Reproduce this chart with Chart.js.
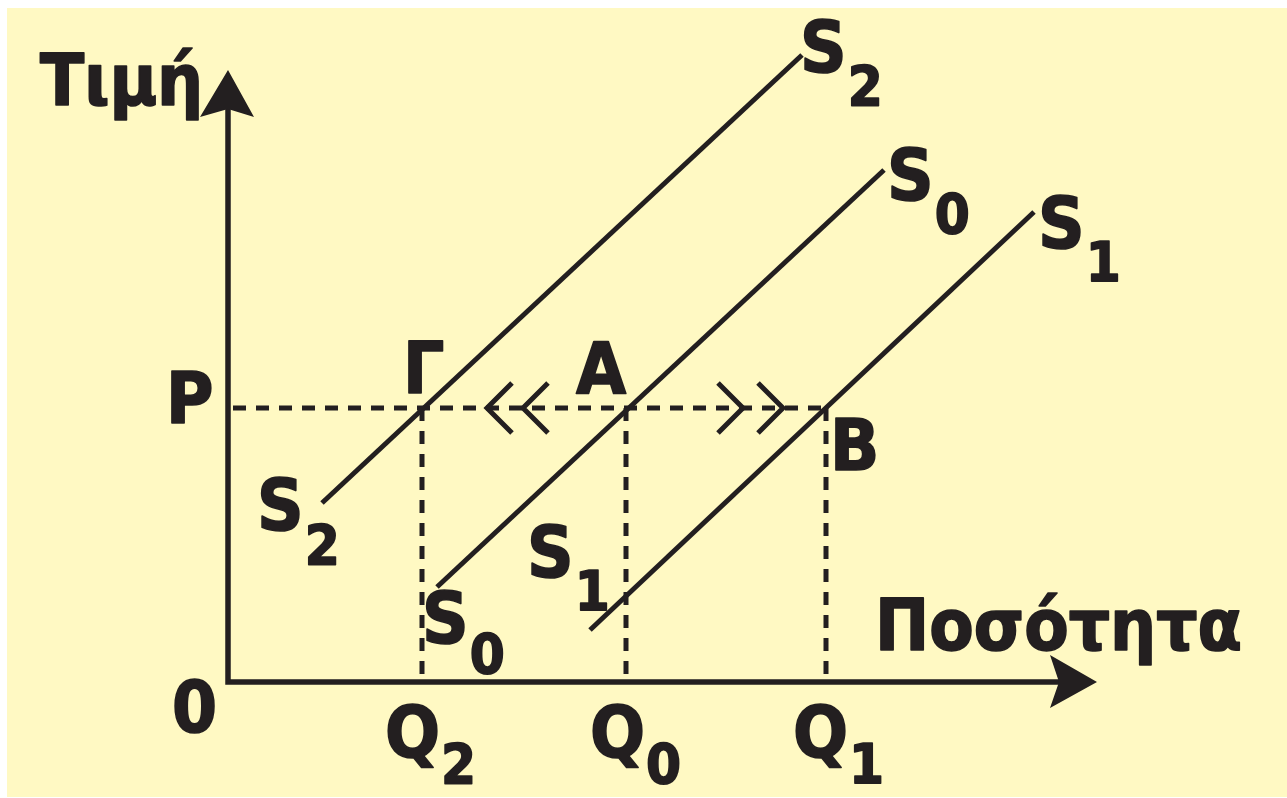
<!DOCTYPE html>
<html>
<head>
<meta charset="utf-8">
<script src="https://cdn.jsdelivr.net/npm/chart.js@4/dist/chart.umd.min.js"></script>
<style>
html,body{margin:0;padding:0;background:#ffffff;}
canvas{display:block;}
</style>
</head>
<body>
<canvas id="c" width="1287" height="798"></canvas>
<script>
// ---- data (economic units) ----
const qValues = [3.88, 7.96, 11.96];          // Q2, Q0, Q1
const pValue = 5.48;                           // P
const supplyS2 = [[1.88, 3.58], [11.48, 12.54]];
const supplyS0 = [[4.18, 1.90], [13.12, 10.24]];
const supplyS1 = [[7.24, 1.04], [16.12, 9.40]];
const axisPath = [[0, 11.5], [0, 0], [16.8, 0]];
const yArrow = [[0, 12.24], [-0.56, 11.3], [0, 11.46], [0.52, 11.3]];
const xArrow = [[17.38, 0], [16.44, 0.54], [16.62, 0], [16.44, -0.52]];
const leftChevronTips = [5.18, 5.90];
const rightChevronTips = [10.30, 11.10];
const chevronSize = 0.5;

// ---- text labels (anchor in data units: left / baseline) ----
const labels = [
  {t: 'Τιμή', x: -3.76, y: 11.54},
  {t: 'Ποσότητα', x: 12.94, y: 0.64},
  {t: 'P', x: -1.24, y: 5.18},
  {t: '0', x: -1.12, y: -1.00},
  {t: 'Γ', x: 3.50, y: 5.78},
  {t: 'Α', x: 6.96, y: 5.78},
  {t: 'Β', x: 12.04, y: 4.24},
  {t: 'Q', s: '2', x: 3.14, y: -1.50, sd: 26},
  {t: 'Q', s: '0', x: 7.24, y: -1.50, sd: 26},
  {t: 'Q', s: '1', x: 11.30, y: -1.50, sd: 26},
  {t: 'S', s: '2', x: 11.44, y: 12.20, sd: 33},
  {t: 'S', s: '0', x: 13.18, y: 9.64, sd: 33},
  {t: 'S', s: '1', x: 16.20, y: 8.68, sd: 33},
  {t: 'S', s: '2', x: 0.58, y: 3.04, sd: 34},
  {t: 'S', s: '0', x: 3.88, y: 0.78, sd: 30},
  {t: 'S', s: '1', x: 5.98, y: 2.10, sd: 33}
];

const INK = '#231f20';
const pts = a => a.map(p => ({x: p[0], y: p[1]}));
const solid = (arr, w) => ({data: pts(arr), borderColor: INK, borderWidth: w, showLine: true, pointRadius: 0, fill: false, tension: 0});
const dashed = arr => Object.assign(solid(arr, 5), {borderDash: [13, 10]});

const datasets = [];
datasets.push(Object.assign(solid(axisPath, 5.5), {borderJoinStyle: 'miter'}));
datasets.push(solid(supplyS2, 5));
datasets.push(solid(supplyS0, 5));
datasets.push(solid(supplyS1, 5));
datasets.push(dashed([[0.1, pValue], [qValues[2], pValue]]));
qValues.forEach(q => datasets.push(dashed([[q, pValue], [q, 0]])));
leftChevronTips.forEach(t => datasets.push(Object.assign(solid([[t + chevronSize, pValue + chevronSize], [t, pValue], [t + chevronSize, pValue - chevronSize]], 5), {borderJoinStyle: 'miter'})));
rightChevronTips.forEach(t => datasets.push(Object.assign(solid([[t - chevronSize, pValue + chevronSize], [t, pValue], [t - chevronSize, pValue - chevronSize]], 5), {borderJoinStyle: 'miter'})));

const FONT = '"DejaVu Sans Condensed", "DejaVu Sans", sans-serif';

const decor = {
  id: 'decor',
  beforeDraw(chart) {
    const ctx = chart.ctx;
    ctx.save();
    ctx.fillStyle = '#ffffff';
    ctx.fillRect(0, 0, chart.width, chart.height);
    ctx.fillStyle = '#fff9c3';
    ctx.fillRect(7, 8, chart.width - 7, chart.height - 9);
    ctx.restore();
  },
  afterDatasetsDraw(chart) {
    const ctx = chart.ctx, xs = chart.scales.x, ys = chart.scales.y;
    ctx.save();
    ctx.fillStyle = INK;
    ctx.strokeStyle = INK;
    [yArrow, xArrow].forEach(poly => {
      ctx.beginPath();
      poly.forEach((p, i) => {
        const X = xs.getPixelForValue(p[0]), Y = ys.getPixelForValue(p[1]);
        if (i === 0) ctx.moveTo(X, Y); else ctx.lineTo(X, Y);
      });
      ctx.closePath();
      ctx.fill();
    });
    ctx.textBaseline = 'alphabetic';
    ctx.textAlign = 'left';
    ctx.lineJoin = 'round';
    ctx.lineWidth = 1.6;
    labels.forEach(l => {
      const X = xs.getPixelForValue(l.x), Y = ys.getPixelForValue(l.y);
      ctx.font = 'bold 72px ' + FONT;
      ctx.fillText(l.t, X, Y);
      ctx.strokeText(l.t, X, Y);
      if (l.s) {
        const w = ctx.measureText(l.t).width;
        ctx.font = 'bold 56px ' + FONT;
        ctx.fillText(l.s, X + w + 1, Y + l.sd);
        ctx.strokeText(l.s, X + w + 1, Y + l.sd);
      }
    });
    ctx.restore();
  }
};

new Chart(document.getElementById('c'), {
  type: 'scatter',
  data: {datasets},
  options: {
    responsive: false,
    animation: false,
    layout: {padding: 0},
    plugins: {legend: {display: false}, tooltip: {enabled: false}},
    scales: {
      x: {type: 'linear', min: -4.56, max: 21.18, display: false},
      y: {type: 'linear', min: -2.32, max: 13.64, display: false}
    }
  },
  plugins: [decor]
});
</script>
</body>
</html>
